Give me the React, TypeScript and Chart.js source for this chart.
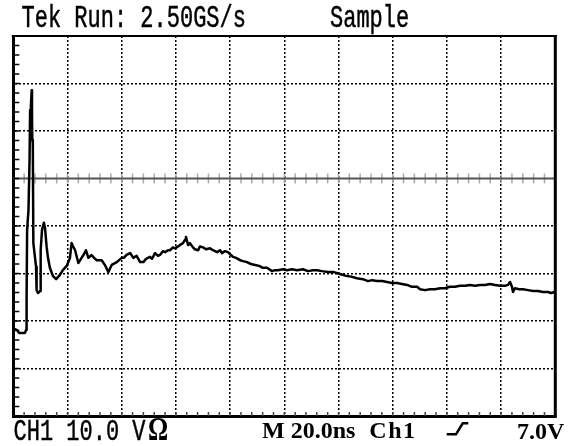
import React, { useEffect, useRef } from "react";
import { Chart, registerables } from "chart.js";

Chart.register(...registerables);

// Horizontal axis: time in ns (20 ns / div, 10 divisions)
const timeNs = [
  0, 0.6, 1.4, 2.1, 3.2, 4.3, 4.7, 4.9, 5.1, 5.6, 6.0, 6.2, 6.5, 6.8, 6.9, 7.0, 7.2, 7.4, 8.4, 8.6,
  9.1, 9.9, 10.1, 10.6, 11.3, 11.7, 12.3, 12.8, 13.5, 14.6, 15.8, 17.2, 18.3, 19.7, 20.3, 20.9, 21.5,
  22.0, 22.8, 24.0, 25.2, 26.1, 26.8, 27.7, 28.9, 29.8, 30.8, 32.6, 33.8, 35.1, 36.3, 38.2, 40.0,
  40.8, 41.8, 43.1, 44.3, 45.5, 46.8, 48.0, 49.0, 50.4, 51.2, 52.3, 53.4, 54.1, 55.2, 56.0, 57.1,
  57.8, 58.9, 59.7, 60.8, 61.5, 62.6, 63.4, 63.7, 64.5, 65.2, 66.3, 67.0, 68.2, 68.9, 70.0, 71.1,
  72.6, 73.7, 75.2, 76.3, 77.0, 78.1, 79.2, 80.3, 81.1, 82.2, 83.7, 84.8, 86.2, 87.7, 89.2, 90.7,
  92.1, 93.6, 95.5, 96.6, 97.7, 99.5, 101.0, 102.8, 104.7, 106.9, 108.7, 110.6, 112.1, 113.9, 116.1,
  118.3, 120.5, 122.8, 125.0, 126.8, 129.0, 130.9, 132.4, 134.2, 136.1, 137.9, 139.7, 141.6, 143.4,
  145.3, 147.1, 149.0, 150.1, 151.9, 153.8, 155.6, 157.5, 159.3, 161.1, 163.0, 164.8, 166.7, 168.5,
  170.4, 172.2, 174.1, 175.9, 177.7, 179.6, 181.4, 182.5, 183.3, 184.0, 184.4, 185.1, 186.6, 188.1,
  189.9, 191.8, 193.6, 195.5, 197.3, 198.4, 200,
];

// Vertical axis: volts (10 V / div)
const voltsV = [
  -32.1, -31.7, -31.9, -32.5, -32.5, -32.5, -31.9, -25.6, -10.8, -6.6, 3.9, 14.4, 15.5, 18.6, 13.4, 8.1,
  7.5, -13.6, -18.6, -23.5, -24.1, -23.7, -15.1, -10.8, -9.3, -10.4, -14.4, -16.7, -18.8, -20.5, -21.2,
  -20.3, -19.3, -18.4, -17.6, -16.7, -13.6, -14.2, -15.1, -17.8, -16.7, -15.9, -15.1, -16.7, -16.1,
  -16.7, -17.2, -17.2, -18.2, -19.7, -18.2, -17.6, -16.7, -16.7, -16.1, -15.7, -16.7, -16.3, -17.6,
  -17.6, -16.9, -16.5, -16.9, -15.7, -16.3, -16.1, -15.3, -15.5, -15.1, -15.1, -14.5, -14.7, -14.3,
  -14.0, -13.6, -12.9, -12.3, -14.0, -13.6, -14.5, -14.9, -15.1, -14.3, -14.5, -14.9, -14.7, -15.1,
  -15.5, -15.1, -15.7, -15.3, -15.5, -16.1, -16.5, -16.7, -17.2, -17.4, -17.6, -18.0, -18.2, -18.4,
  -18.8, -18.8, -19.5, -19.3, -19.3, -19.1, -19.3, -19.1, -19.3, -19.1, -19.5, -19.3, -19.3, -19.5,
  -19.7, -19.7, -20.1, -20.5, -20.7, -21.0, -21.2, -21.6, -21.4, -21.6, -21.6, -21.8, -22.0, -22.0,
  -22.2, -22.4, -22.8, -22.8, -23.3, -23.5, -23.3, -23.3, -23.1, -23.1, -22.8, -22.8, -22.6, -22.6,
  -22.4, -22.6, -22.4, -22.4, -22.2, -22.4, -22.6, -22.6, -22.4, -21.8, -22.8, -23.9, -23.1, -23.3,
  -23.3, -23.5, -23.7, -23.7, -23.9, -23.9, -24.1, -23.9,
];

const xMin = 0;
const xMax = 200;
const xStep = 20;
const yMin = -50;
const yMax = 30;
const yStep = 10;
const refLevelV = 0;

const graticulePlugin = {
  id: "graticule",
  beforeDatasetsDraw(chart: any) {
    const { ctx, chartArea, scales } = chart;
    const xs = scales.x;
    const ys = scales.y;
    ctx.save();
    const yRef = ys.getPixelForValue(refLevelV);
    ctx.strokeStyle = "#aaaaaa";
    ctx.lineWidth = 1.5;
    for (let t = xMin + xStep / 5; t < xMax; t += xStep / 5) {
      const px = xs.getPixelForValue(t);
      ctx.beginPath();
      ctx.moveTo(px, yRef - 5);
      ctx.lineTo(px, yRef + 5);
      ctx.stroke();
    }
    ctx.strokeStyle = "#555555";
    ctx.lineWidth = 2;
    ctx.beginPath();
    ctx.moveTo(chartArea.left, yRef);
    ctx.lineTo(chartArea.right, yRef);
    ctx.stroke();
    ctx.strokeStyle = "#000";
    ctx.lineWidth = 1.5;
    for (let v = yMin + yStep / 5; v < yMax; v += yStep / 5) {
      const py = ys.getPixelForValue(v);
      ctx.beginPath();
      ctx.moveTo(chartArea.left, py);
      ctx.lineTo(chartArea.left + 6, py);
      ctx.stroke();
    }
    ctx.strokeStyle = "#444";
    for (let t = xMin + xStep / 5; t < xMax; t += xStep / 5) {
      const px = xs.getPixelForValue(t);
      ctx.beginPath();
      ctx.moveTo(px, chartArea.bottom);
      ctx.lineTo(px, chartArea.bottom - 4);
      ctx.stroke();
    }
    ctx.restore();
  },
  afterDraw(chart: any) {
    const { ctx, chartArea } = chart;
    ctx.save();
    ctx.strokeStyle = "#000";
    ctx.lineWidth = 2;
    ctx.beginPath();
    ctx.moveTo(chartArea.left - 1.5, chartArea.top);
    ctx.lineTo(chartArea.right + 1.5, chartArea.top);
    ctx.stroke();
    ctx.lineWidth = 3;
    ctx.beginPath();
    ctx.moveTo(chartArea.right, chartArea.top - 1);
    ctx.lineTo(chartArea.right, chartArea.bottom + 1.5);
    ctx.stroke();
    ctx.restore();
  },
};

const monoFont = '"Liberation Mono", "DejaVu Sans Mono", monospace';
const serifFont = '"Liberation Serif", "DejaVu Serif", serif';

export default function App() {
  const ref = useRef<HTMLCanvasElement>(null);

  useEffect(() => {
    if (!ref.current) return;
    const chart = new Chart(ref.current, {
      type: "line",
      data: {
        datasets: [
          {
            data: timeNs.map((t, i) => ({ x: t, y: voltsV[i] })),
            borderColor: "#000",
            borderWidth: 2.5,
            borderJoinStyle: "round",
            pointRadius: 0,
            tension: 0,
            fill: false,
          },
        ],
      },
      options: {
        responsive: false,
        animation: false,
        events: [],
        layout: { padding: { left: 13.3, right: 26.7, top: 36, bottom: 30 } },
        plugins: { legend: { display: false }, tooltip: { enabled: false }, title: { display: false } },
        scales: {
          x: {
            type: "linear",
            min: xMin,
            max: xMax,
            ticks: { display: false, stepSize: xStep },
            grid: {
              drawTicks: false,
              lineWidth: 1.5,
              color: (c: any) => (c.tick && (c.tick.value === xMin || c.tick.value === xMax) ? "rgba(0,0,0,0)" : "#000"),
            },
            border: { display: true, color: "#000", width: 3, dash: [2, 2] },
          },
          y: {
            type: "linear",
            min: yMin,
            max: yMax,
            ticks: { display: false, stepSize: yStep },
            grid: {
              drawTicks: false,
              lineWidth: 1.5,
              color: (c: any) =>
                c.tick && (c.tick.value === yMin || c.tick.value === yMax || c.tick.value === refLevelV)
                  ? "rgba(0,0,0,0)"
                  : "#000",
            },
            border: { display: true, color: "#000", width: 3, dash: [2, 2] },
          },
        },
      },
      plugins: [graticulePlugin],
    });
    return () => chart.destroy();
  }, []);

  const mono: React.CSSProperties = {
    display: "inline-block",
    fontFamily: monoFont,
    fontSize: 22,
    lineHeight: "22px",
    whiteSpace: "pre",
    color: "#000",
    transform: "scaleY(1.4)",
    transformOrigin: "0 17px",
    WebkitTextStroke: "0.35px #000",
  };

  return (
    <div style={{ position: "absolute", left: 0, top: 0, width: 582, height: 446, background: "#fff", overflow: "hidden" }}>
      <canvas ref={ref} width={582} height={446} style={{ position: "absolute", left: 0, top: 0, width: 582, height: 446 }} />
      <div style={{ position: "absolute", left: 21.5, top: 11, whiteSpace: "pre", lineHeight: "22px" }}>
        <span style={mono}>Tek Run: 2.50GS/s</span>
      </div>
      <div style={{ position: "absolute", left: 330, top: 11, whiteSpace: "pre", lineHeight: "22px" }}>
        <span style={mono}>Sample</span>
      </div>
      <div style={{ position: "absolute", left: 13.5, top: 421, whiteSpace: "pre", lineHeight: "22px" }}>
        <span style={{ ...mono, transform: "scaleY(1.3)" }}>CH1 10.0 V</span>
        <span
          style={{
            display: "inline-block",
            fontFamily: serifFont,
            fontWeight: "bold",
            fontSize: 24,
            lineHeight: "22px",
            marginLeft: 2,
            color: "#000",
            transform: "scale(1.05, 1.4)",
            transformOrigin: "0 19px",
          }}
        >
          Ω
        </span>
      </div>
      <div
        style={{
          position: "absolute",
          left: 262,
          top: 418,
          whiteSpace: "pre",
          fontFamily: serifFont,
          fontWeight: "bold",
          fontSize: 24,
          lineHeight: "24px",
          color: "#000",
        }}
      >
        M 20.0ns <span style={{ marginLeft: 8, letterSpacing: 1.5 }}>Ch1</span>
      </div>
      <svg style={{ position: "absolute", left: 445, top: 421 }} width={26} height={16}>
        <polyline points="1.7,13.3 11,13.3 17.7,2.3 23.3,2.3" fill="none" stroke="#000" strokeWidth={2.5} />
      </svg>
      <div
        style={{
          position: "absolute",
          left: 517,
          top: 419,
          whiteSpace: "pre",
          fontFamily: serifFont,
          fontWeight: "bold",
          fontSize: 24,
          lineHeight: "24px",
          color: "#000",
        }}
      >
        7.0V
      </div>
    </div>
  );
}
